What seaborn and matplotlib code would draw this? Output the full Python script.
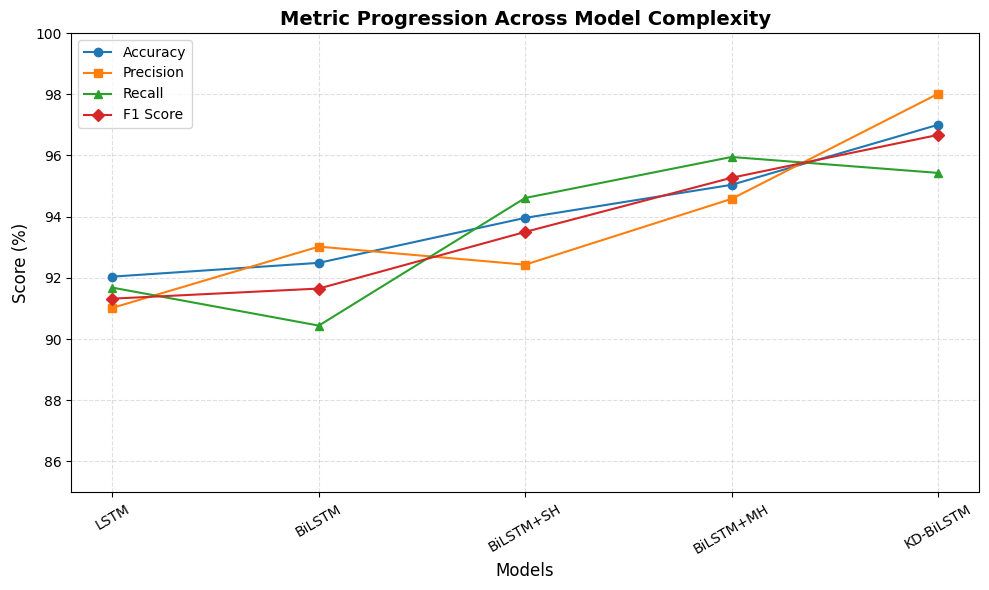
import matplotlib
matplotlib.use("Agg")
import matplotlib.pyplot as plt
import seaborn as sns
import pandas as pd

models = ["LSTM", "BiLSTM", "BiLSTM+SH", "BiLSTM+MH", "KD-BiLSTM"]
accuracy = [92.04, 92.49, 93.96, 95.04, 97.0]
precision = [91.02, 93.02, 92.43, 94.58, 98.01]
recall = [91.68, 90.44, 94.61, 95.95, 95.43]
f1_score = [91.32, 91.65, 93.50, 95.27, 96.67]

metrics = {
    "Accuracy": accuracy,
    "Precision": precision,
    "Recall": recall,
    "F1 Score": f1_score,
}
markers = {"Accuracy": "o", "Precision": "s", "Recall": "^", "F1 Score": "D"}
colors = ["#1f77b4", "#ff7f0e", "#2ca02c", "#d62728"]

rows = []
for name, vals in metrics.items():
    for m, v in zip(models, vals):
        rows.append({"Model": m, "Metric": name, "Score": v})
df = pd.DataFrame(rows)

fig, ax = plt.subplots(figsize=(9.89, 5.9), dpi=100)
sns.lineplot(
    data=df,
    x="Model",
    y="Score",
    hue="Metric",
    style="Metric",
    markers=markers,
    dashes=False,
    palette=colors,
    markersize=6,
    sort=False,
    ax=ax,
)
# same-colour marker edges like plain plt.plot
for line in ax.lines:
    line.set_markeredgecolor(line.get_color())
    line.set_markeredgewidth(1)

ax.set_ylim(85, 100)
ax.set_title("Metric Progression Across Model Complexity", fontsize=14, fontweight="bold")
ax.set_xlabel("Models", fontsize=12)
ax.set_ylabel("Score (%)", fontsize=12)
plt.setp(ax.get_xticklabels(), rotation=30)
ax.grid(True, linestyle="--", alpha=0.4)
leg = ax.legend(loc="upper left")
for h in leg.legend_handles:
    h.set_markeredgecolor(h.get_color())
    h.set_markeredgewidth(1)
fig.subplots_adjust(left=0.072, right=0.99, top=0.944, bottom=0.166)
plt.savefig("out.png")
